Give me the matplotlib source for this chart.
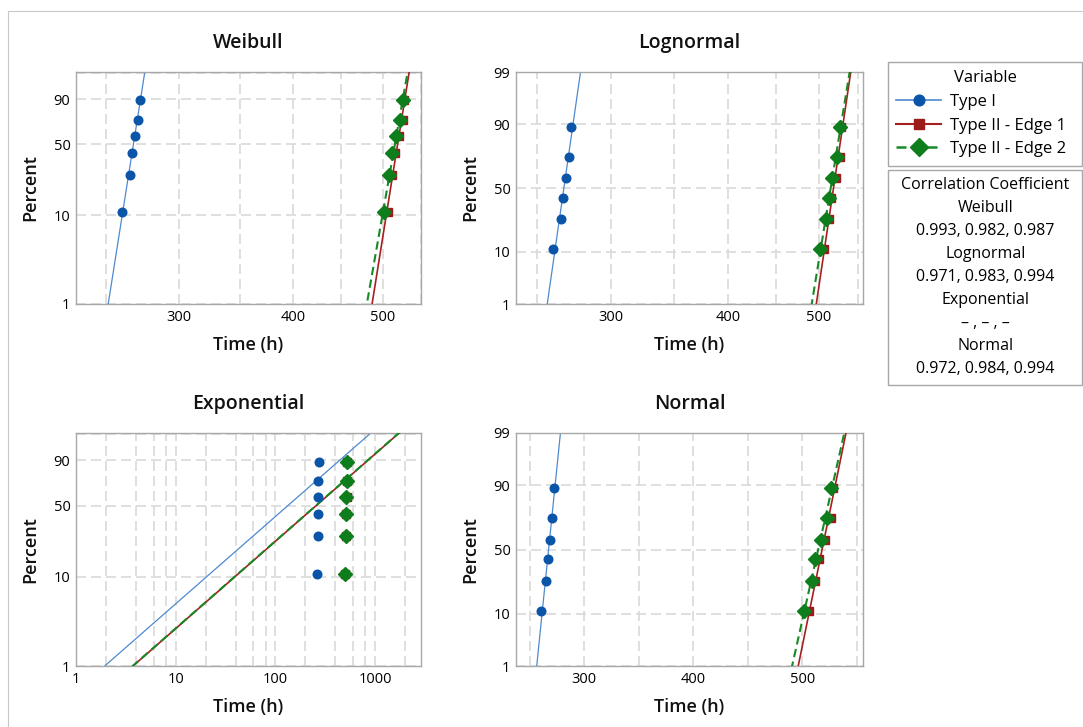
import numpy as np
import matplotlib
matplotlib.use("Agg")
import matplotlib.pyplot as plt
from matplotlib.lines import Line2D
from matplotlib.patches import Rectangle
from matplotlib.ticker import NullLocator
from statistics import NormalDist

# failure times (h), sorted, 6 units per group
series_names = ["Type I", "Type II - Edge 1", "Type II - Edge 2"]
type_i = [260.3, 265.3, 267.0, 268.8, 270.8, 272.0]
edge_1 = [506.5, 511.8, 515.5, 521.0, 526.3, 528.0]
edge_2 = [501.5, 508.5, 512.0, 516.8, 522.8, 526.0]
# median-rank plotting positions (%)
rank_pct = [10.9, 26.6, 42.2, 57.8, 73.4, 89.1]
# exponential scale (h) of the fitted lines
exp_scale = [193, 371, 369]

corr_rows = [
    ("Weibull", "0.993, 0.982, 0.987"),
    ("Lognormal", "0.971, 0.983, 0.994"),
    ("Exponential", "– , – , –"),
    ("Normal", "0.972, 0.984, 0.994"),
]

data = [type_i, edge_1, edge_2]
mk_colors = ["#0b55a8", "#9c1a1a", "#0e7d1c"]
ln_colors = ["#4f89cf", "#a52020", "#178a25"]
markers = ["o", "s", "D"]
msizes = [6.2, 6.3, 7.2]
lstyles = ["-", "-", (0, (4, 2.2))]
lwidths = [0.9, 1.2, 1.5]

plt.rcParams["font.family"] = ["Open Sans", "DejaVu Sans"]

W, H = 1083, 727
fig = plt.figure(figsize=(W / 100, H / 100), dpi=100)


def fig_box(l, t, r, b):
    return [l / W, 1 - b / H, (r - l) / W, (b - t) / H]


def weib(p):
    return np.log(-np.log(1 - np.asarray(p)))


_nd = NormalDist()


def probit(p):
    return np.array([_nd.inv_cdf(v) for v in np.atleast_1d(p)])


p_pts = np.array(rank_pct) / 100
p_line = np.linspace(0.004, 0.996, 300)


def draw_panel(ax, kind, title, xlim, xgrid, xlabels):
    for i, t in enumerate(data):
        t = np.array(t)
        if kind == "weibull":
            yp, yl = weib(p_pts), weib(p_line)
            a, b = np.polyfit(yp, np.log(t), 1)
            xl = np.exp(a * yl + b)
        elif kind == "lognormal":
            yp, yl = probit(p_pts), probit(p_line)
            a, b = np.polyfit(yp, np.log(t), 1)
            xl = np.exp(a * yl + b)
        elif kind == "normal":
            yp, yl = probit(p_pts), probit(p_line)
            a, b = np.polyfit(yp, t, 1)
            xl = a * yl + b
        else:
            yp, yl = weib(p_pts), weib(p_line)
            xl = exp_scale[i] * (-np.log(1 - p_line))
        ax.plot(xl, yl, color=ln_colors[i], lw=lwidths[i], ls=lstyles[i], zorder=2 + i)
        ax.plot(t, yp, ls="none", marker=markers[i], ms=msizes[i],
                color=mk_colors[i], mec=mk_colors[i], zorder=6 + i)

    if kind in ("weibull", "exponential"):
        ax.set_xscale("log")
        ylo, yhi = weib(0.01), weib(0.991)
        yt = weib(np.array([1, 10, 50, 90, 99]) / 100)
        ylab = ["1", "10", "50", "90", ""]
    else:
        if kind == "lognormal":
            ax.set_xscale("log")
        ylo, yhi = probit(0.01)[0], probit(0.99)[0]
        yt = probit(np.array([1, 10, 50, 90, 99]) / 100)
        ylab = ["1", "10", "50", "90", "99"]

    ax.set_xlim(*xlim)
    ax.set_ylim(ylo, yhi)
    ax.set_xticks(xgrid)
    ax.set_xticklabels([str(v) if v in xlabels else "" for v in xgrid])
    ax.xaxis.set_minor_locator(NullLocator())
    ax.set_yticks(yt)
    ax.set_yticklabels(ylab)
    ax.yaxis.set_minor_locator(NullLocator())

    ax.grid(True, color="#d9d9d9", lw=1.2, ls=(0, (6, 3)))
    ax.set_axisbelow(True)
    ax.tick_params(length=0, labelsize=10.5, colors="#000000")
    ax.tick_params(axis="x", pad=4)
    ax.tick_params(axis="y", pad=4)
    for s in ax.spines.values():
        s.set_color("#a8a8a8")
        s.set_linewidth(1.0)

    ax.set_title(title, fontsize=14, fontweight="semibold", pad=17, color="#111111")
    ax.set_xlabel("Time (h)", fontsize=13, fontweight="semibold", labelpad=8, color="#111111")
    ax.set_ylabel("Percent", fontsize=13, fontweight="semibold", labelpad=10, color="#111111")


hours_grid = [250, 300, 350, 400, 450, 500, 550]
exp_grid = [m * 10 ** k for k in range(0, 4) for m in (1, 2, 4, 6, 8) if m * 10 ** k <= 2000]

ax_w = fig.add_axes(fig_box(76, 72, 421, 304))
draw_panel(ax_w, "weibull", "Weibull", (232, 550.5), hours_grid, [300, 400, 500])

ax_l = fig.add_axes(fig_box(516, 72, 863, 304))
draw_panel(ax_l, "lognormal", "Lognormal", (237.7, 557), hours_grid, [300, 400, 500])

ax_e = fig.add_axes(fig_box(76, 433, 421, 666))
draw_panel(ax_e, "exponential", "Exponential", (1, 2900), exp_grid, [1, 10, 100, 1000])

ax_n = fig.add_axes(fig_box(516, 433, 863, 666))
draw_panel(ax_n, "normal", "Normal", (237.5, 555.7), hours_grid, [300, 400, 500])

# legend of the groups
handles = [Line2D([], [], color=ln_colors[i], lw=lwidths[i] + 0.3, ls=lstyles[i],
                  marker=markers[i], ms=msizes[i] + 1.5, mfc=mk_colors[i], mec=mk_colors[i])
           for i in range(3)]
leg = fig.legend(handles, series_names, title="Variable", loc="upper left",
                 bbox_to_anchor=(888 / W, 1 - 62 / H, (1082 - 888) / W, 0), mode="expand",
                 frameon=True, fancybox=False, edgecolor="#a8a8a8", framealpha=1,
                 borderaxespad=0, handlelength=2.7, handletextpad=0.5,
                 labelspacing=0.46, borderpad=0.5, fontsize=12, title_fontsize=12)
leg.get_frame().set_linewidth(1.0)

# correlation coefficient box
fig.add_artist(Rectangle((888 / W, 1 - 385 / H), (1082 - 888) / W, (385 - 170) / H,
                         transform=fig.transFigure, fill=False, ec="#a8a8a8", lw=1.0))
cx = 985.5 / W
fig.text(cx, 1 - 185 / H, "Correlation Coefficient", ha="center", va="center", fontsize=11.5)
y = 208.3
for name, vals in corr_rows:
    fig.text(cx, 1 - y / H, name, ha="center", va="center", fontsize=11.5)
    fig.text(cx, 1 - (y + 22.4) / H, vals, ha="center", va="center", fontsize=11.5)
    y += 46

# outer frame
fig.add_artist(Rectangle((8 / W, -0.05), 1.1, 1 - 11 / H + 0.05,
                         transform=fig.transFigure, fill=False, ec="#c8c8c8", lw=0.8))

fig.savefig("out.png", dpi=100)
